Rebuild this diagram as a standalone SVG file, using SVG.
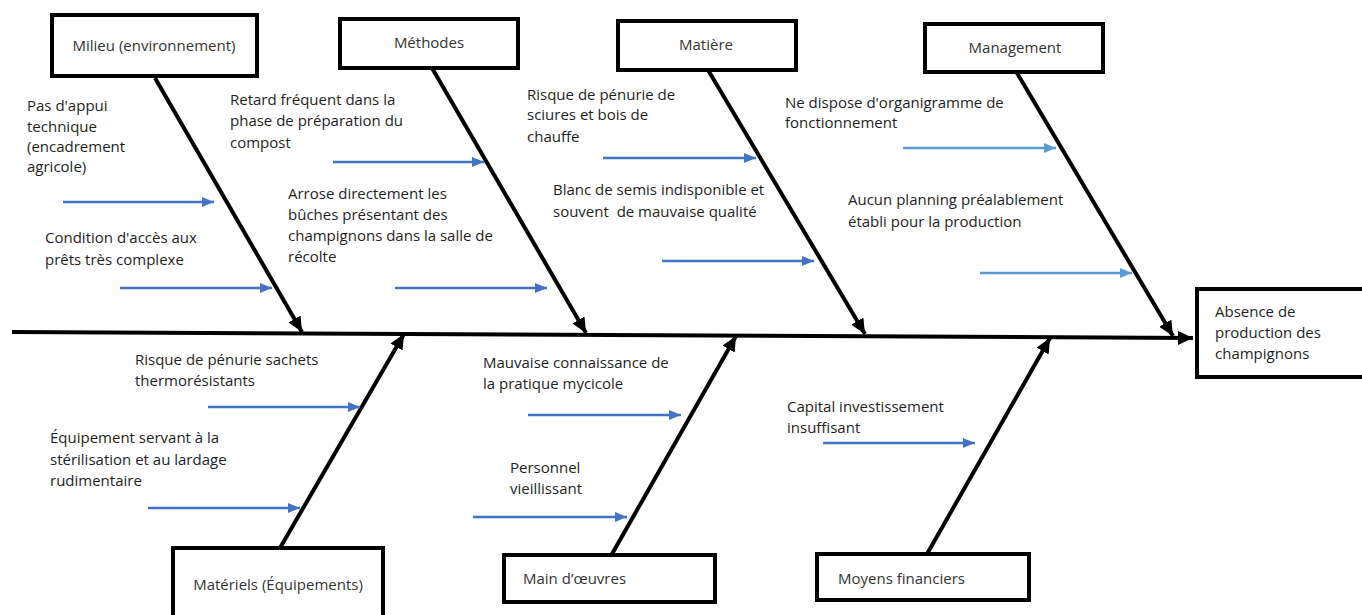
<svg xmlns="http://www.w3.org/2000/svg" width="1362" height="615" viewBox="0 0 1362 615">
<style>
.box{fill:#fff;stroke:#000;stroke-width:4}
.bone{stroke:#000;stroke-width:4;fill:none}
.cause{stroke:#4472C4;stroke-width:2.5;fill:none}
.cause2{stroke:#5B9BD5;stroke-width:2.5;fill:none}
text{font-family:"Open Sans","Liberation Sans",sans-serif;font-size:15px;fill:#1e1e1e}
.lbl{fill:#333}
</style>
<defs>
<marker id="ab" markerUnits="userSpaceOnUse" markerWidth="15" markerHeight="14" refX="15" refY="7" orient="auto"><path d="M0,0 L15,7 L0,14 z" fill="#000"/></marker>
<marker id="abb" markerUnits="userSpaceOnUse" markerWidth="12" markerHeight="10" refX="12" refY="5" orient="auto"><path d="M0,0 L12,5 L0,10 z" fill="#4472C4"/></marker>
<marker id="abl" markerUnits="userSpaceOnUse" markerWidth="12" markerHeight="10" refX="12" refY="5" orient="auto"><path d="M0,0 L12,5 L0,10 z" fill="#5B9BD5"/></marker>
</defs>
<g id="connectors">
<line class="bone" x1="12" y1="332" x2="1193" y2="338" marker-end="url(#ab)"/>
<line class="bone" x1="155" y1="78" x2="302" y2="332" marker-end="url(#ab)"/>
<line class="bone" x1="432" y1="68" x2="586" y2="333" marker-end="url(#ab)"/>
<line class="bone" x1="708" y1="70" x2="865" y2="334" marker-end="url(#ab)"/>
<line class="bone" x1="1017" y1="73" x2="1173" y2="336" marker-end="url(#ab)"/>
<line class="bone" x1="280" y1="548" x2="404" y2="334" marker-end="url(#ab)"/>
<line class="bone" x1="612" y1="554" x2="736" y2="336" marker-end="url(#ab)"/>
<line class="bone" x1="927" y1="554" x2="1050" y2="338" marker-end="url(#ab)"/>
<line class="cause" x1="63" y1="202" x2="214" y2="202" marker-end="url(#abb)"/>
<line class="cause" x1="120" y1="288" x2="272" y2="288" marker-end="url(#abb)"/>
<line class="cause" x1="333" y1="162" x2="484" y2="162" marker-end="url(#abb)"/>
<line class="cause" x1="395" y1="288" x2="547" y2="288" marker-end="url(#abb)"/>
<line class="cause" x1="603" y1="158" x2="756" y2="158" marker-end="url(#abb)"/>
<line class="cause" x1="662" y1="261" x2="814" y2="261" marker-end="url(#abb)"/>
<line class="cause2" x1="903" y1="148" x2="1056" y2="148" marker-end="url(#abl)"/>
<line class="cause2" x1="980" y1="273" x2="1132" y2="273" marker-end="url(#abl)"/>
<line class="cause" x1="208" y1="407" x2="360" y2="407" marker-end="url(#abb)"/>
<line class="cause" x1="148" y1="508" x2="300" y2="508" marker-end="url(#abb)"/>
<line class="cause" x1="528" y1="415" x2="681" y2="415" marker-end="url(#abb)"/>
<line class="cause" x1="473" y1="517" x2="627" y2="517" marker-end="url(#abb)"/>
<line class="cause" x1="823" y1="443" x2="975" y2="443" marker-end="url(#abb)"/>
</g>
<g id="milieu"><rect class="box" x="52" y="15" width="205" height="61"/><text class="lbl" x="154" y="51" text-anchor="middle">Milieu (environnement)</text></g>
<g id="methodes"><rect class="box" x="340" y="19" width="178" height="49"/><text class="lbl" x="429" y="48" text-anchor="middle">Méthodes</text></g>
<g id="matiere"><rect class="box" x="618" y="21" width="178" height="49"/><text class="lbl" x="706" y="50" text-anchor="middle">Matière</text></g>
<g id="management"><rect class="box" x="925" y="24" width="178" height="48"/><text class="lbl" x="1015" y="53" text-anchor="middle">Management</text></g>
<g id="effet"><rect class="box" x="1197" y="289" width="175" height="88"/><text x="1215" y="317">Absence de</text><text x="1215" y="338">production des</text><text x="1215" y="359">champignons</text></g>
<g id="materiels"><rect class="box" x="173" y="548" width="210" height="80"/><text class="lbl" x="278" y="590" text-anchor="middle">Matériels (Équipements)</text></g>
<g id="main-oeuvre"><rect class="box" x="504" y="555" width="211" height="47"/><text class="lbl" x="523" y="584">Main d’œuvres</text></g>
<g id="moyens"><rect class="box" x="817" y="554" width="212" height="46"/><text class="lbl" x="838" y="584">Moyens financiers</text></g>
<g id="c1"><text x="27" y="111">Pas d'appui</text><text x="27" y="132">technique</text><text x="27" y="152">(encadrement</text><text x="27" y="172">agricole)</text></g>
<g id="c2"><text x="45" y="243">Condition d'accès aux</text><text x="45" y="265">prêts très complexe</text></g>
<g id="c3"><text x="230" y="105">Retard fréquent dans la</text><text x="230" y="126">phase de préparation du</text><text x="230" y="148">compost</text></g>
<g id="c4"><text x="288" y="199">Arrose directement les</text><text x="288" y="220">bûches présentant des</text><text x="288" y="241">champignons dans la salle de</text><text x="288" y="262">récolte</text></g>
<g id="c5"><text x="527" y="100">Risque de pénurie de</text><text x="527" y="120">sciures et bois de</text><text x="527" y="142">chauffe</text></g>
<g id="c6"><text x="553" y="195">Blanc de semis indisponible et</text><text x="553" y="217" xml:space="preserve">souvent  de mauvaise qualité</text></g>
<g id="c7"><text x="785" y="108">Ne dispose d'organigramme de</text><text x="785" y="128">fonctionnement</text></g>
<g id="c8"><text x="848" y="205">Aucun planning préalablement</text><text x="848" y="227">établi pour la production</text></g>
<g id="c9"><text x="135" y="365">Risque de pénurie sachets</text><text x="135" y="386">thermorésistants</text></g>
<g id="c10"><text x="50" y="443">Équipement servant à la</text><text x="50" y="465">stérilisation et au lardage</text><text x="50" y="486">rudimentaire</text></g>
<g id="c11"><text x="483" y="368">Mauvaise connaissance de</text><text x="483" y="389">la pratique mycicole</text></g>
<g id="c12"><text x="510" y="473">Personnel</text><text x="510" y="494">vieillissant</text></g>
<g id="c13"><text x="787" y="412">Capital investissement</text><text x="787" y="433">insuffisant</text></g>
</svg>
